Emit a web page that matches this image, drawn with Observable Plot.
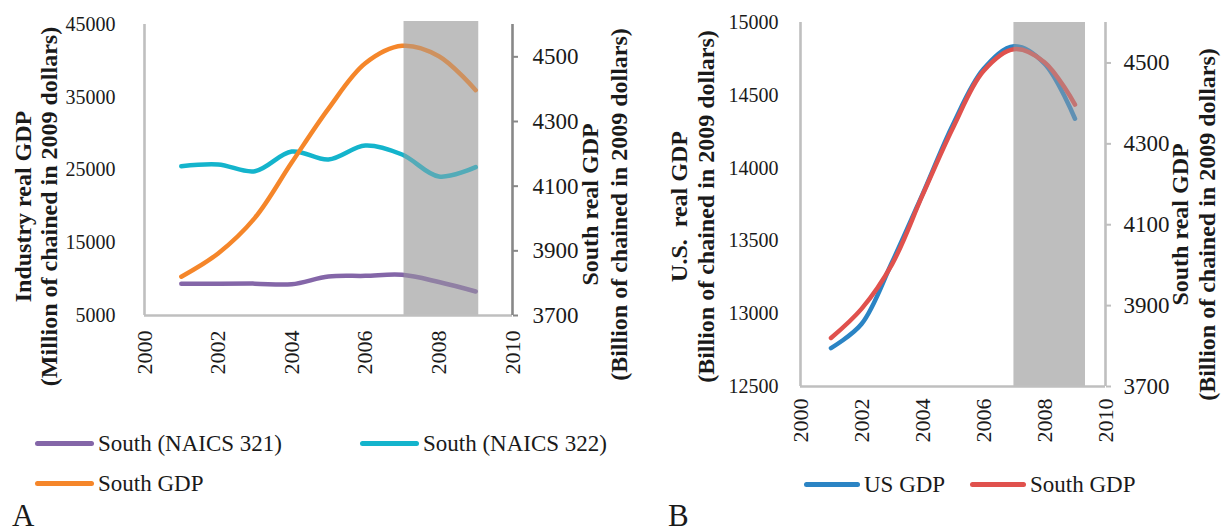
<!DOCTYPE html>
<html><head><meta charset="utf-8">
<script src="https://cdn.jsdelivr.net/npm/d3@7"></script>
<script src="https://cdn.jsdelivr.net/npm/@observablehq/plot@0.6"></script>
<style>
body{margin:0;background:#fff;}
#wrap{position:relative;width:1221px;height:532px;overflow:hidden;background:#fff;font-family:"Liberation Serif","Times New Roman",serif;color:#1a1a1a;}
.panel{position:absolute;top:0;}
.leg{position:absolute;height:30px;font-size:23px;line-height:1;white-space:nowrap;display:flex;align-items:center;}
.sw{display:inline-block;height:5px;border-radius:3px;margin-right:4px;}
.lab{position:absolute;font-size:31px;line-height:1;}
</style></head><body><div id="wrap"></div>
<script>
// ---- data ----
const years = [2001, 2002, 2003, 2004, 2005, 2006, 2007, 2008, 2009];
const naics321 = [9350, 9380, 9380, 9300, 10360, 10450, 10590, 9600, 8300];
const naics322 = [25520, 25760, 24840, 27540, 26450, 28370, 27130, 24110, 25390];
const southGDP = [3820, 3892, 4002, 4173, 4340, 4480, 4534, 4502, 4397];
const usGDP = [12764, 12929, 13353, 13820, 14300, 14680, 14837, 14718, 14339];
const recession = [{start: 2007, end: 2009}];
const xTicks = [2000, 2002, 2004, 2006, 2008, 2010];
const industryTicks = [5000, 15000, 25000, 35000, 45000];
const southTicks = [3700, 3900, 4100, 4300, 4500];
const usTicks = [12500, 13000, 13500, 14000, 14500, 15000];
const xDomain = [2000, 2010];
const industryDomain = [5000, 45000];
const southDomain = [3700, 4600];
const usDomain = [12500, 15000];
const colors = {n321: "#8466a8", n322: "#14b4cc", southA: "#f5862a", us: "#2b84c4", southB: "#e0514d"};

const FONT = "'Liberation Serif','Times New Roman',serif";
const mapTo = (from, to) => v => to[0] + (v - from[0]) * (to[1] - to[0]) / (from[1] - from[0]);
const rows = vals => years.map((year, i) => ({year, v: vals[i]}));
const fmt = d => String(d);

const wrap = document.getElementById("wrap");
const titleOpts = {text: d => d, rotate: -90, fontSize: 24, fontWeight: "bold", textAnchor: "middle", lineAnchor: "middle", fill: "#1a1a1a"};

// ---- Panel A ----
const sA = mapTo(southDomain, industryDomain);
const sAinv = mapTo(industryDomain, southDomain);
const recA = recession.map(r => ({x1: r.start, x2: r.end, y1: industryDomain[0], y2: industryDomain[1]}));
const lineOpts = {x: "year", y: "v", strokeWidth: 4.5, curve: "catmull-rom"};
const A = Plot.plot({
  width: 640, height: 400,
  marginLeft: 144, marginRight: 128, marginTop: 24, marginBottom: 85,
  x: {domain: xDomain, axis: null},
  y: {domain: industryDomain, axis: null},
  style: {fontFamily: FONT, color: "#1a1a1a", background: "transparent", overflow: "visible"},
  marks: [
    Plot.rect(recA, {x1: "x1", x2: "x2", y1: "y1", y2: "y2", fill: "#d8d8d8", insetLeft: 2, insetRight: -3, insetTop: -3}),
    Plot.line(rows(naics321), {...lineOpts, stroke: colors.n321}),
    Plot.line(rows(naics322), {...lineOpts, stroke: colors.n322}),
    Plot.line(rows(southGDP), {...lineOpts, y: d => sA(d.v), stroke: colors.southA}),
    Plot.rect(recA, {x1: "x1", x2: "x2", y1: "y1", y2: "y2", fill: "#a0a0a0", fillOpacity: 0.45, insetLeft: 2, insetRight: -3, insetTop: -3}),
    Plot.ruleX([xDomain[0]], {stroke: "#bfbfbf", strokeWidth: 2.6}),
    Plot.ruleY([industryDomain[0]], {stroke: "#bfbfbf", strokeWidth: 2.6}),
    Plot.ruleX([xDomain[1]], {stroke: "#888888", strokeWidth: 2.6}),
    Plot.axisY(industryTicks, {anchor: "left", tickSize: 0, tickPadding: 29, fontSize: 20, label: null, fill: "#1a1a1a", tickFormat: fmt}),
    Plot.axisY(southTicks.map(sA), {anchor: "right", tickSize: 5, tickPadding: 15, fontSize: 23, label: null,
      stroke: "#888888", strokeWidth: 2, fill: "#1a1a1a", tickFormat: d => String(Math.round(sAinv(d)))}),
    Plot.axisX(xTicks, {anchor: "bottom", tickSize: 0, tickPadding: 15, tickRotate: -90, fontSize: 22, label: null,
      fill: "#1a1a1a", tickFormat: fmt}),
    Plot.text(["Industry real GDP\n(Million of chained in 2009 dollars)"], {...titleOpts, frameAnchor: "left", dx: -109, dy: 36.5, lineHeight: 1.1}),
    Plot.text(["South real GDP\n(Billion of chained in 2009 dollars)"], {...titleOpts, frameAnchor: "right", dx: 90.5, dy: 34.5, lineHeight: 1.2})
  ]
});
A.classList.add("panel");
A.style.left = "0px";
wrap.appendChild(A);

// ---- Panel B ----
const sB = mapTo(southDomain, usDomain);
const sBinv = mapTo(usDomain, southDomain);
const recB = recession.map(r => ({x1: r.start, x2: r.end, y1: usDomain[0], y2: usDomain[1]}));
const B = Plot.plot({
  width: 601, height: 445,
  marginLeft: 180, marginRight: 116, marginTop: 22, marginBottom: 59,
  x: {domain: xDomain, axis: null},
  y: {domain: usDomain, axis: null},
  style: {fontFamily: FONT, color: "#1a1a1a", background: "transparent", overflow: "visible"},
  marks: [
    Plot.rect(recB, {x1: "x1", x2: "x2", y1: "y1", y2: "y2", fill: "#d8d8d8", insetLeft: 0, insetRight: -10.5}),
    Plot.line(rows(usGDP), {...lineOpts, stroke: colors.us}),
    Plot.line(rows(southGDP), {...lineOpts, y: d => sB(d.v), stroke: colors.southB}),
    Plot.rect(recB, {x1: "x1", x2: "x2", y1: "y1", y2: "y2", fill: "#a0a0a0", fillOpacity: 0.45, insetLeft: 0, insetRight: -10.5}),
    Plot.ruleX([xDomain[0]], {stroke: "#bfbfbf", strokeWidth: 2.6}),
    Plot.ruleY([usDomain[0]], {stroke: "#bfbfbf", strokeWidth: 2.6}),
    Plot.ruleX([xDomain[1]], {stroke: "#bfbfbf", strokeWidth: 2.6}),
    Plot.axisY(usTicks, {anchor: "left", tickSize: 0, tickPadding: 22, fontSize: 20, label: null, fill: "#1a1a1a", tickFormat: fmt}),
    Plot.axisY(southTicks.map(sB), {anchor: "right", tickSize: 5, tickPadding: 13, fontSize: 23, label: null,
      stroke: "#bfbfbf", strokeWidth: 2, fill: "#1a1a1a", tickFormat: d => String(Math.round(sBinv(d)))}),
    Plot.axisX(xTicks, {anchor: "bottom", tickSize: 0, tickPadding: 12, tickRotate: -90, fontSize: 22, label: null,
      fill: "#1a1a1a", tickFormat: fmt}),
    Plot.text(["U.S.  real GDP\n(Billion of chained in 2009 dollars)"], {...titleOpts, frameAnchor: "left", dx: -108.5, dy: 2, lineHeight: 1.1}),
    Plot.text(["South real GDP\n(Billion of chained in 2009 dollars)"], {...titleOpts, frameAnchor: "right", dx: 87.5, dy: 20, lineHeight: 1.1})
  ]
});
B.classList.add("panel");
B.style.left = "620px";
wrap.appendChild(B);

// ---- legends & panel labels ----
const legends = [
  {label: "South (NAICS 321)", color: colors.n321, left: 35, cy: 443, w: 59},
  {label: "South (NAICS 322)", color: colors.n322, left: 360, cy: 443, w: 59},
  {label: "South GDP", color: colors.southA, left: 35, cy: 483, w: 59},
  {label: "US GDP", color: colors.us, left: 804, cy: 484, w: 56},
  {label: "South GDP", color: colors.southB, left: 970, cy: 484, w: 56}
];
for (const l of legends) {
  const d = document.createElement("div");
  d.className = "leg";
  d.style.left = l.left + "px";
  d.style.top = (l.cy - 15) + "px";
  const s = document.createElement("span");
  s.className = "sw";
  s.style.width = l.w + "px";
  s.style.background = l.color;
  d.appendChild(s);
  d.appendChild(document.createTextNode(l.label));
  wrap.appendChild(d);
}
for (const p of [{t: "A", left: 12}, {t: "B", left: 668}]) {
  const d = document.createElement("div");
  d.className = "lab";
  d.style.left = p.left + "px";
  d.style.top = "500px";
  d.textContent = p.t;
  wrap.appendChild(d);
}
</script></body></html>
